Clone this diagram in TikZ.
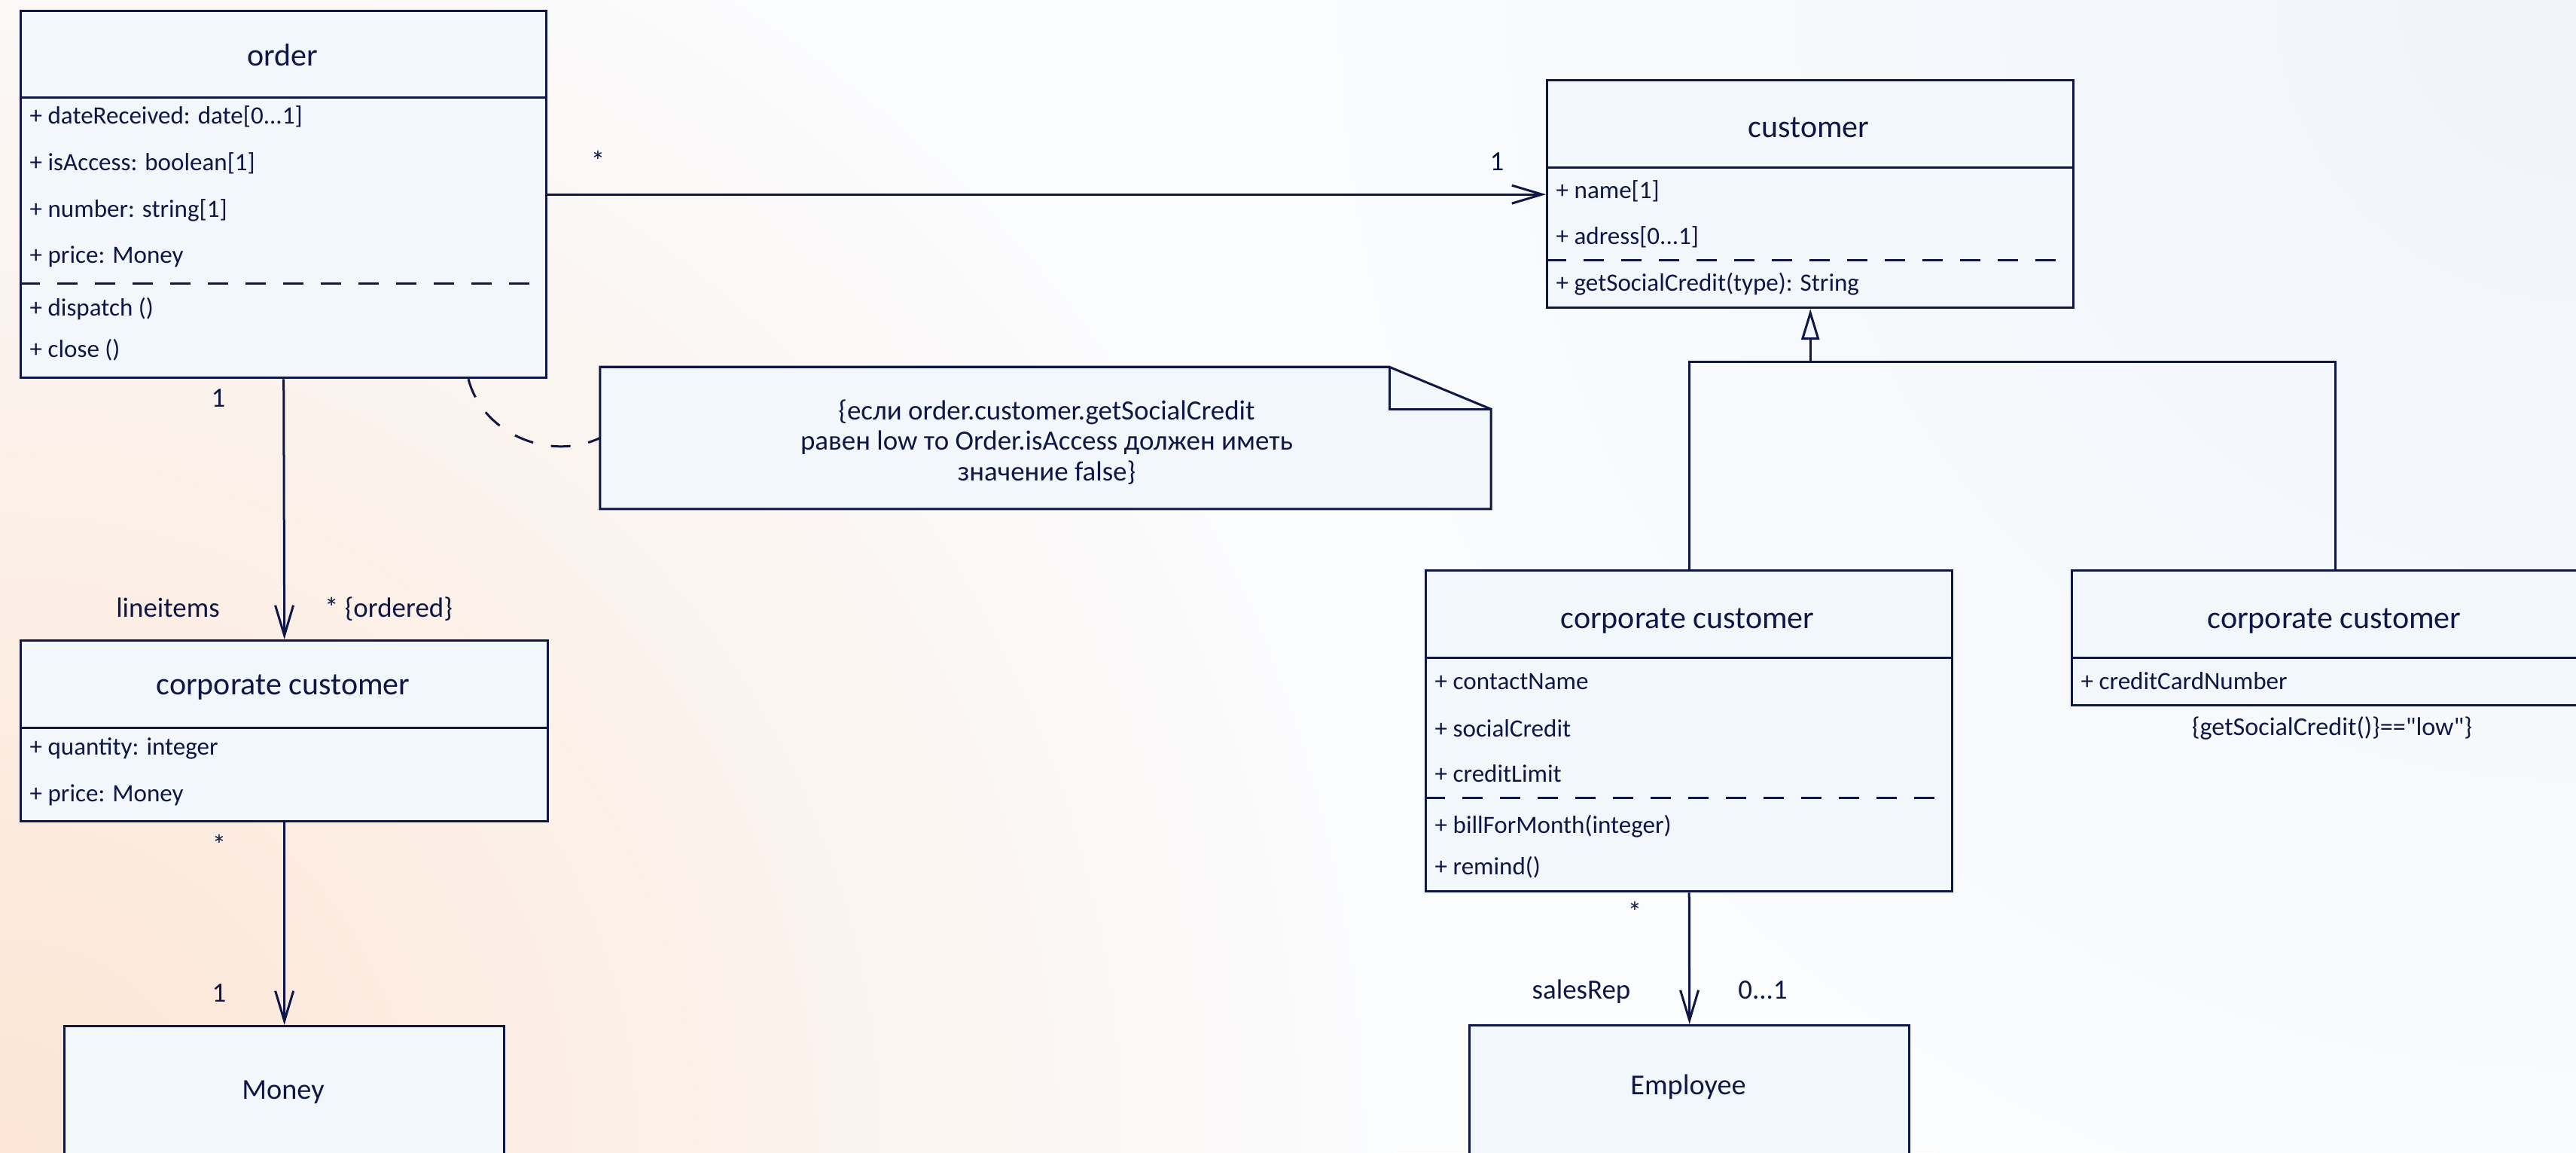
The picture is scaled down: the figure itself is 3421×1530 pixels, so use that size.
\documentclass[tikz,border=0pt]{standalone}
\usepackage{fontspec}
\setmainfont{Carlito}
\usetikzlibrary{arrows.meta,calc}

\definecolor{ink}{HTML}{0E1745}
\definecolor{boxfill}{HTML}{F2F7FC}
\definecolor{paper}{HTML}{FBFCFE}
\definecolor{peach}{HTML}{FCE5D4}
\definecolor{bluetint}{HTML}{F0F4FA}

\tikzset{
  classbox/.style={draw=ink, fill=boxfill, line width=0.03cm, anchor=north west, inner sep=0pt},
  notebox/.style={inner sep=0pt, minimum width=11.81cm, minimum height=1.87cm},
  rule/.style={draw=ink, line width=0.03cm},
  sep/.style={rule, dash pattern=on 0.27cm off 0.23cm},
  title/.style={anchor=mid, yshift=-0.04cm, inner sep=0pt, text=ink, font=\fontsize{11.95}{14}\selectfont},
  solotitle/.style={title, font=\fontsize{10.9}{13}\selectfont},
  attr/.style={anchor=mid west, yshift=-0.03cm, inner sep=0pt, text=ink, font=\fontsize{9.4}{11}\selectfont},
  mult/.style={anchor=base, inner sep=0pt, text=ink, font=\fontsize{10.5}{12}\selectfont},
  assoc/.style={rule, -{Straight Barb[length=0.4cm,width=0.24cm]}},
  gen/.style={rule, -{Triangle[length=0.41cm,width=0.24cm,fill=boxfill]}},
  link/.style={rule, dash pattern=on 0.26cm off 0.24cm}
}

\begin{document}
\begin{tikzpicture}[x=0.01cm, y=-0.01cm]
\path[use as bounding box] (0,0) rectangle (3421,1530);
\clip (0,0) rectangle (3421,1530);
\fill[paper] (0,0) rectangle (3421,1530);
\shade[inner color=peach, outer color=paper] (0,1530) circle (1850);
\shade[inner color=bluetint, outer color=paper] (3421,0) circle (1750);

% order
\node[classbox, minimum width=6.98cm, minimum height=4.87cm] (order) at (26,13) {};
\draw[rule] (order.west |- 0,129) -- (order.east |- 0,129);
\draw[sep] (order.west |- 0,376) -- (order.east |- 0,376);
\node[title] (ordername) at (375,75) {order};
\node[attr] (o1) at (39,153) {+ dateReceived: date[0...1]};
\node[attr] (o2) at (39,215) {+ isAccess: boolean[1]};
\node[attr] (o3) at (39,277) {+ number: string[1]};
\node[attr] (o4) at (39,338) {+ price: Money};
\node[attr] (o5) at (39,408) {+ dispatch ()};
\node[attr] (o6) at (39,463) {+ close ()};

% customer
\node[classbox, minimum width=6.99cm, minimum height=3.02cm] (customer) at (2053,105) {};
\draw[rule] (customer.west |- 0,222) -- (customer.east |- 0,222);
\draw[sep] (customer.west |- 0,345) -- (customer.east |- 0,345);
\node[title] (customername) at (2402,170) {customer};
\node[attr] (c1) at (2066,252) {+ name[1]};
\node[attr] (c2) at (2066,313) {+ adress[0...1]};
\node[attr] (c3) at (2066,375) {+ getSocialCredit(type): String};

% line items
\node[classbox, minimum width=7cm, minimum height=2.4cm] (items) at (26,849) {};
\draw[rule] (items.west |- 0,966) -- (items.east |- 0,966);
\node[title] (itemsname) at (376,910) {corporate customer};
\node[attr] (i1) at (39,991) {+ quantity: integer};
\node[attr] (i2) at (39,1053) {+ price: Money};

% money
\node[classbox, minimum width=5.84cm, minimum height=2.2cm] (money) at (84,1361) {};
\node[solotitle] (moneyname) at (376,1447) {Money};

% corporate customer
\node[classbox, minimum width=6.99cm, minimum height=4.26cm] (corp) at (1892,756) {};
\draw[rule] (corp.west |- 0,873) -- (corp.east |- 0,873);
\draw[sep] (corp.west |- 0,1059) -- (corp.east |- 0,1059);
\node[title] (corpname) at (2241,822) {corporate customer};
\node[attr] (k1) at (1905,904) {+ contactName};
\node[attr] (k2) at (1905,967) {+ socialCredit};
\node[attr] (k3) at (1905,1027) {+ creditLimit};
\node[attr] (k4) at (1905,1095) {+ billForMonth(integer)};
\node[attr] (k5) at (1905,1150) {+ remind()};

% card customer
\node[classbox, minimum width=7cm, minimum height=1.79cm] (card) at (2750,756) {};
\draw[rule] (card.west |- 0,873) -- (card.east |- 0,873);
\node[title] (cardname) at (3100,822) {corporate customer};
\node[attr] (d1) at (2763,904) {+ creditCardNumber};
\node[attr, anchor=mid, font=\fontsize{9.7}{11}\selectfont] (cardrule) at (3097,965)
  {\{getSocialCredit()\}==\textquotedbl low\textquotedbl\}};

% employee
\node[classbox, minimum width=5.84cm, minimum height=2.2cm] (employee) at (1950,1360) {};
\node[solotitle] (employeename) at (2242,1441) {Employee};

% note
\node[notebox] (note) at (1388.5,581.5) {};
\draw[rule, fill=boxfill] (note.north west) -- ($(note.north east)+(-135,0)$) -- ($(note.north east)+(0,56)$) -- (note.south east) -- (note.south west) -- cycle;
\draw[rule] ($(note.north east)+(-135,0)$) |- ($(note.north east)+(0,56)$);
\node[title, anchor=center, yshift=0cm, align=center, font=\fontsize{10.5}{11.6}\selectfont] (notetext) at (1390,583)
  {\{если order.customer.getSocialCredit\\равен low то Order.isAccess должен иметь\\значение false\}};
\draw[link] (order.south -| 622,0) .. controls (641,576) and (729,613) .. (note.west);

% associations
\draw[assoc] (order.east) -- (order.east -| customer.west);
\node[mult] (m1) at (794,226) {*};
\node[mult] (m2) at (1988,226) {1};
\draw[assoc] (order.south) -- (items.north);
\node[mult] (m3) at (290,540) {1};
\node[mult] (m4) at (223,819) {lineitems};
\node[mult] (m5) at (516,819) {* \{ordered\}};
\draw[assoc] (items.south) -- (money.north);
\node[mult] (m6) at (291,1134) {*};
\node[mult] (m7) at (291,1330) {1};
\draw[assoc] (corp.south) -- (employee.north);
\node[mult] (m8) at (2171,1223) {*};
\node[mult] (m9) at (2100,1326) {salesRep};
\node[mult] (m10) at (2341,1326) {0...1};

% generalization
\coordinate (fork) at (customer.south |- 0,480);
\draw[rule] (corp.north) |- (fork) -| (card.north);
\draw[gen] (fork) -- (customer.south);
\end{tikzpicture}
\end{document}
